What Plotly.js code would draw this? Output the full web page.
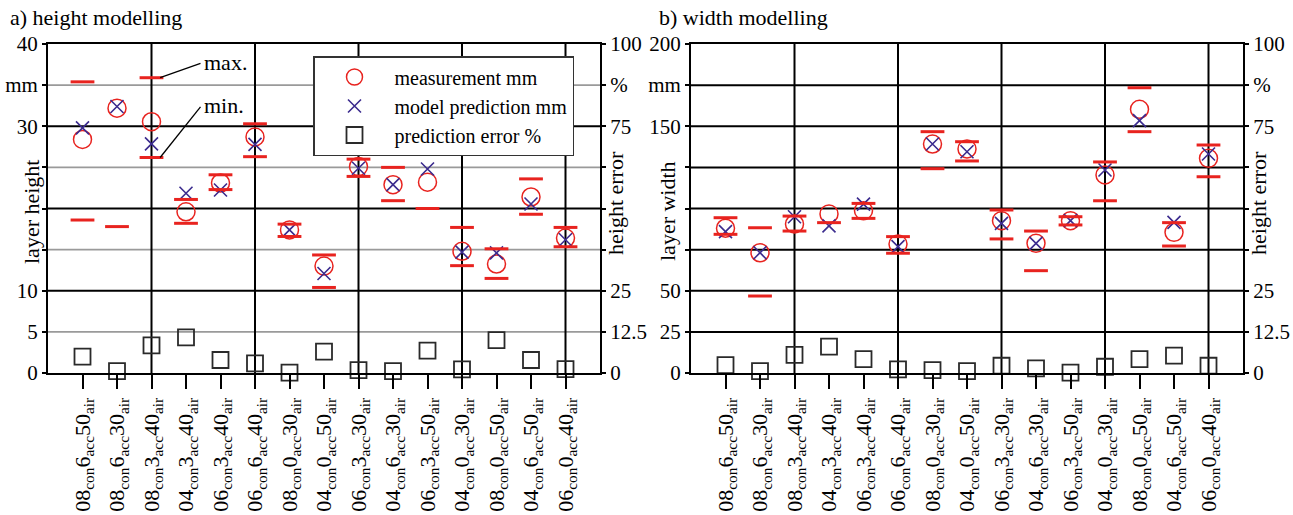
<!DOCTYPE html>
<html>
<head>
<meta charset="utf-8">
<script src="https://cdn.plot.ly/plotly-3.0.1.min.js"></script>
<style>
html,body{margin:0;padding:0;background:#fff;}
#chart{width:1293px;height:515px;}
</style>
</head>
<body>
<div id="chart"></div>
<script>
// ---- data ----
var categories = [
  '08<sub>con</sub>6<sub>acc</sub>50<sub>air</sub>',
  '08<sub>con</sub>6<sub>acc</sub>30<sub>air</sub>',
  '08<sub>con</sub>3<sub>acc</sub>40<sub>air</sub>',
  '04<sub>con</sub>3<sub>acc</sub>40<sub>air</sub>',
  '06<sub>con</sub>3<sub>acc</sub>40<sub>air</sub>',
  '06<sub>con</sub>6<sub>acc</sub>40<sub>air</sub>',
  '08<sub>con</sub>0<sub>acc</sub>30<sub>air</sub>',
  '04<sub>con</sub>0<sub>acc</sub>50<sub>air</sub>',
  '06<sub>con</sub>3<sub>acc</sub>30<sub>air</sub>',
  '04<sub>con</sub>6<sub>acc</sub>30<sub>air</sub>',
  '06<sub>con</sub>3<sub>acc</sub>50<sub>air</sub>',
  '04<sub>con</sub>0<sub>acc</sub>30<sub>air</sub>',
  '08<sub>con</sub>0<sub>acc</sub>50<sub>air</sub>',
  '04<sub>con</sub>6<sub>acc</sub>50<sub>air</sub>',
  '06<sub>con</sub>0<sub>acc</sub>40<sub>air</sub>'
];

var heightMeasured = [28.4, 32.2, 30.55, 19.6, 23.1, 28.7, 17.4, 13.0, 25.1, 22.9, 23.2, 14.8, 13.25, 21.4, 16.4];
var heightModel    = [29.8, 32.4, 27.85, 21.85, 22.25, 27.8, 17.4, 12.1, 24.9, 22.9, 24.8, 14.7, 14.6, 20.55, 16.2];
var heightMax      = [35.4, null, 35.9, 21.1, 24.1, 30.3, 18.1, 14.35, 26.0, 25.0, null, 17.7, 15.1, 23.6, 17.7];
var heightMin      = [18.6, 17.8, 26.2, 18.2, 22.3, 26.3, 16.6, 10.4, 23.9, 20.95, 20.0, 13.05, 11.5, 19.3, 15.35];
var heightError    = [4.97, 0.6, 8.4, 10.8, 3.95, 2.9, 0.1, 6.5, 0.9, 0.6, 6.8, 1.1, 10.0, 3.95, 1.2];

var widthMeasured = [88.0, 73.1, 90.6, 96.7, 98.7, 78.4, 139.2, 136.2, 92.6, 78.8, 92.6, 120.4, 160.3, 85.5, 130.5];
var widthModel    = [85.9, 73.1, 95.0, 89.4, 102.7, 76.8, 139.2, 134.5, 91.0, 78.8, 92.6, 123.4, 153.4, 91.6, 133.1];
var widthMax      = [94.4, 88.3, 95.4, null, 103.1, 82.9, 146.7, 140.6, 99.1, 86.3, 95.0, 128.3, 173.4, 91.4, 138.6];
var widthMin      = [84.3, 46.8, 86.3, 91.4, 94.0, 72.8, 124.2, 128.9, 81.5, 62.2, 90.0, 104.7, 146.7, 77.2, 119.3];
var widthError    = [2.4, 0.6, 5.5, 8.0, 4.2, 1.1, 0.9, 0.6, 2.2, 1.4, 0.1, 1.9, 4.2, 5.3, 2.2];

var heightTickVals = [0, 5, 10, 15, 20, 25, 30, 35, 40];
var heightTickText = ['0', '5', '10', '', '', '', '30', 'mm', '40'];
var widthTickVals  = [0, 25, 50, 75, 100, 125, 150, 175, 200];
var widthTickText  = ['0', '25', '50', '', '', '', '150', 'mm', '200'];
var errTickVals    = [0, 12.5, 25, 37.5, 50, 62.5, 75, 87.5, 100];
var errTickText    = ['0', '12.5', '25', '', '', '', '75', '%', '100'];

// ---- styles ----
var FONT = '"Liberation Serif", "Times New Roman", serif';
var RED = '#e8231f';
var BLUE = '#3b2b8e';
var SQ = '#2a2a2a';

function panelTraces(xa, ya, yErr, meas, model, mx, mn, err, showLeg) {
  return [
    {x: categories, y: meas, xaxis: xa, yaxis: ya, type: 'scatter', mode: 'markers', name: 'measurement mm',
     showlegend: showLeg, cliponaxis: false,
     marker: {symbol: 'circle-open', size: 18, color: RED, line: {color: RED, width: 1.5}}},
    {x: categories, y: model, xaxis: xa, yaxis: ya, type: 'scatter', mode: 'markers', name: 'model prediction mm',
     showlegend: showLeg, cliponaxis: false,
     marker: {symbol: 'x-thin-open', size: 13, color: BLUE, line: {color: BLUE, width: 1.6}}},
    {x: categories, y: mx, xaxis: xa, yaxis: ya, type: 'scatter', mode: 'markers', name: 'max',
     showlegend: false, cliponaxis: false,
     marker: {symbol: 'line-ew-open', size: 17, color: RED, line: {color: RED, width: 3}}},
    {x: categories, y: mn, xaxis: xa, yaxis: ya, type: 'scatter', mode: 'markers', name: 'min',
     showlegend: false, cliponaxis: false,
     marker: {symbol: 'line-ew-open', size: 17, color: RED, line: {color: RED, width: 3}}},
    {x: categories, y: err, xaxis: xa, yaxis: yErr, type: 'scatter', mode: 'markers', name: 'prediction error %',
     showlegend: showLeg, cliponaxis: false,
     marker: {symbol: 'square-open', size: 16, color: SQ, line: {color: SQ, width: 1.8}}}
  ];
}

var data = [].concat(
  panelTraces('x', 'y', 'y2', heightMeasured, heightModel, heightMax, heightMin, heightError, true),
  panelTraces('x2', 'y3', 'y4', widthMeasured, widthModel, widthMax, widthMin, widthError, false)
);

var W = 1293, H = 515;
var aDom = [48 / W, 600 / W];
var bDom = [691 / W, 1243 / W];
var yDom = [(H - 373) / H, (H - 44) / H];

function xAxis(dom, anchor) {
  return {
    domain: dom, anchor: anchor, type: 'category', range: [-1, 15],
    categoryorder: 'array', categoryarray: categories,
    tickangle: -90, ticks: 'outside', ticklen: 14, tickwidth: 2, tickcolor: '#000',
    showline: true, linewidth: 2, linecolor: '#000', mirror: true,
    showgrid: false, zeroline: false,
    tickfont: {family: FONT, size: 22, color: '#000'}
  };
}
function yAxis(dom, anchor, rng, vals, txt, side, over) {
  var a = {
    domain: dom, anchor: anchor, range: rng, side: side,
    tickmode: 'array', tickvals: vals, ticktext: txt,
    ticks: 'outside', ticklen: 4, tickwidth: 2, tickcolor: '#000',
    showline: true, linewidth: 2, linecolor: '#000',
    showgrid: false, zeroline: false,
    tickfont: {family: FONT, size: 21, color: '#000'}
  };
  if (over) a.overlaying = over;
  return a;
}

var shapes = [];
function hline(xref, yref, yv, color, w) {
  shapes.push({type: 'line', layer: 'below', xref: xref + ' domain', yref: yref, x0: 0, x1: 1, y0: yv, y1: yv,
               line: {color: color, width: w}});
}
function vline(xref, yref, xv) {
  shapes.push({type: 'line', layer: 'below', xref: xref, yref: yref + ' domain', x0: xv, x1: xv, y0: 0, y1: 1,
               line: {color: '#000', width: 2}});
}
// panel a grid
[5, 15, 25, 35].forEach(function (v) { hline('x', 'y', v, '#9a9a9a', 1.6); });
[10, 20, 30].forEach(function (v) { hline('x', 'y', v, '#000', 2); });
// panel b grid
[25, 50, 75, 100, 125, 150, 175].forEach(function (v) { hline('x2', 'y3', v, '#000', 2); });
// vertical grid lines every third category
[2, 5, 8, 11, 14].forEach(function (i) { vline('x', 'y', i); vline('x2', 'y3', i); });

// leader lines for max./min. labels (anchored at category 3 dash ends)
shapes.push({type: 'line', xref: 'x', yref: 'y', x0: 2.25, y0: heightMax[2], x1: 3.42, y1: 37.65,
             line: {color: '#000', width: 1.3}});
shapes.push({type: 'line', xref: 'x', yref: 'y', x0: 2.25, y0: heightMin[2], x1: 3.42, y1: 32.35,
             line: {color: '#000', width: 1.3}});

var txtFont = {family: FONT, size: 22, color: '#000'};
var annotations = [
  {text: 'a) height modelling', xref: 'paper', yref: 'paper', x: 8 / W, y: (H - 17) / H, xanchor: 'left', yanchor: 'middle', showarrow: false, font: txtFont},
  {text: 'b) width modelling', xref: 'paper', yref: 'paper', x: 657 / W, y: (H - 17) / H, xanchor: 'left', yanchor: 'middle', showarrow: false, font: txtFont},
  {text: 'layer height', xref: 'paper', yref: 'paper', x: 31 / W, y: (H - 212) / H, xanchor: 'center', yanchor: 'middle', textangle: -90, showarrow: false, font: txtFont},
  {text: 'height error', xref: 'paper', yref: 'paper', x: 615 / W, y: (H - 203) / H, xanchor: 'center', yanchor: 'middle', textangle: -90, showarrow: false, font: txtFont},
  {text: 'layer width', xref: 'paper', yref: 'paper', x: 667 / W, y: (H - 211) / H, xanchor: 'center', yanchor: 'middle', textangle: -90, showarrow: false, font: txtFont},
  {text: 'height error', xref: 'paper', yref: 'paper', x: 1258 / W, y: (H - 203) / H, xanchor: 'center', yanchor: 'middle', textangle: -90, showarrow: false, font: txtFont},
  {text: 'max.', xref: 'x', yref: 'y', x: 3.45, y: 37.7, xanchor: 'left', yanchor: 'middle', showarrow: false, font: txtFont},
  {text: 'min.', xref: 'x', yref: 'y', x: 3.45, y: 32.5, xanchor: 'left', yanchor: 'middle', showarrow: false, font: txtFont}
];

var layout = {
  width: W, height: H,
  margin: {l: 0, r: 0, t: 0, b: 0, pad: 0},
  paper_bgcolor: '#fff', plot_bgcolor: 'rgba(0,0,0,0)',
  font: {family: FONT, size: 21, color: '#000'},
  showlegend: true,
  legend: {
    x: 313 / W, y: (H - 56) / H, xanchor: 'left', yanchor: 'top',
    bgcolor: '#fff', bordercolor: '#333', borderwidth: 1.5,
    font: {family: FONT, size: 20, color: '#000'},
    itemwidth: 70, tracegroupgap: 0
  },
  xaxis: xAxis(aDom, 'y'),
  yaxis: yAxis(yDom, 'x', [0, 40], heightTickVals, heightTickText, 'left'),
  yaxis2: yAxis(yDom, 'x', [0, 100], errTickVals, errTickText, 'right', 'y'),
  xaxis2: xAxis(bDom, 'y3'),
  yaxis3: yAxis(yDom, 'x2', [0, 200], widthTickVals, widthTickText, 'left'),
  yaxis4: yAxis(yDom, 'x2', [0, 100], errTickVals, errTickText, 'right', 'y3'),
  shapes: shapes,
  annotations: annotations
};

Plotly.newPlot('chart', data, layout, {displayModeBar: false, staticPlot: true});
</script>
</body>
</html>
